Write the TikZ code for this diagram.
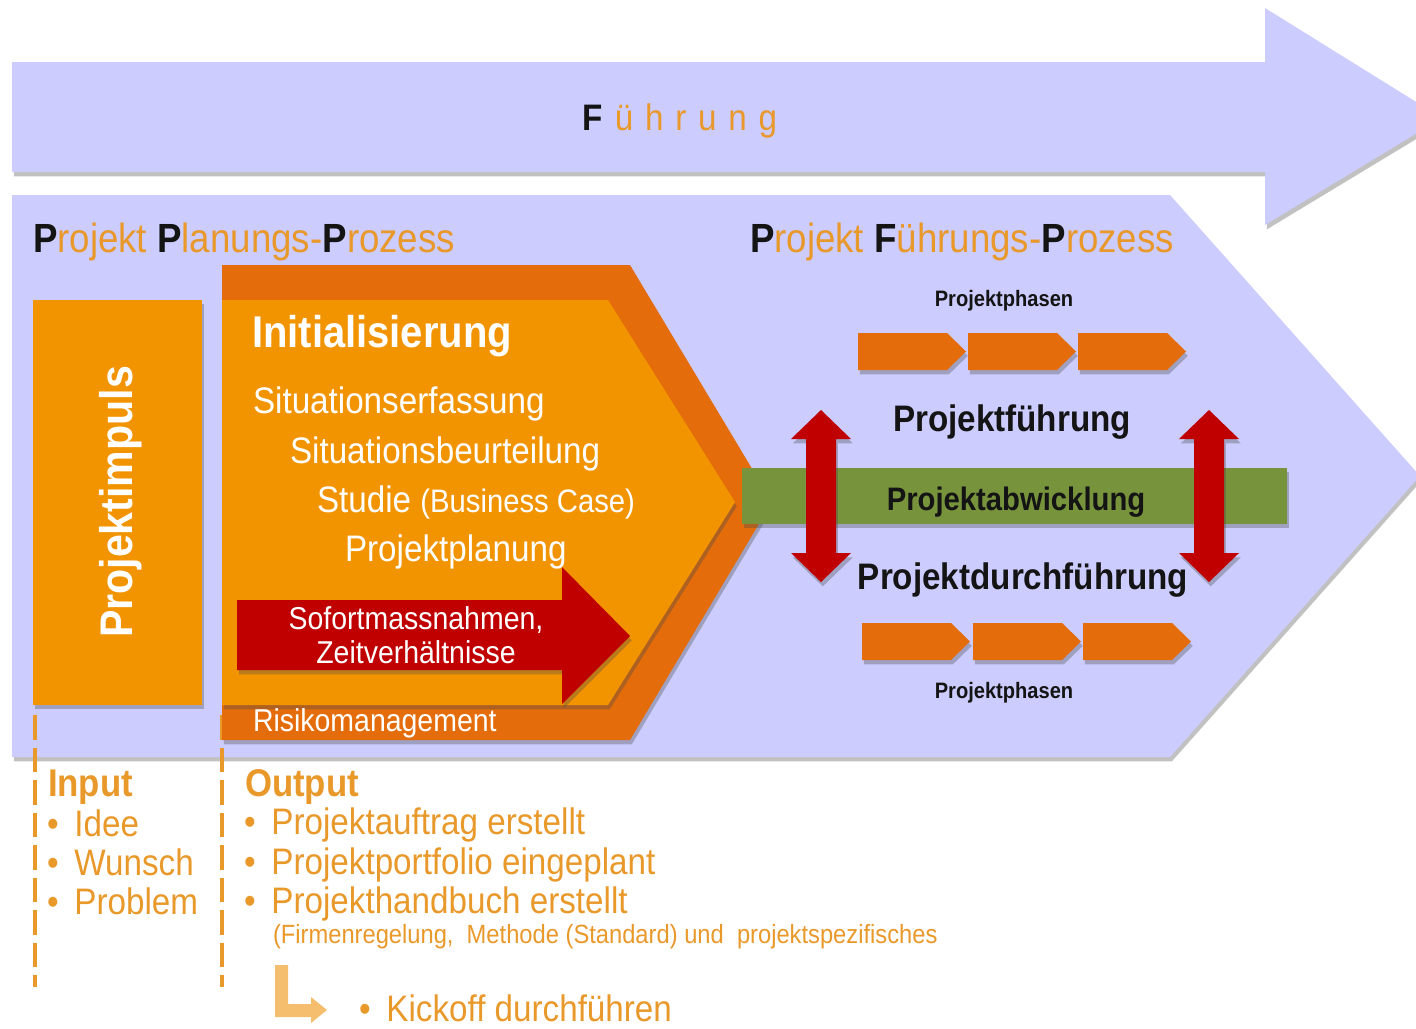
\documentclass[tikz,border=0pt]{standalone}
\usepackage{fontspec}
\setmainfont{Liberation Sans}[FakeStretch=0.9]
\usetikzlibrary{shadows}
\definecolor{lav}{RGB}{204,204,255}
\definecolor{orA}{RGB}{242,148,0}
\definecolor{orB}{RGB}{228,108,10}
\definecolor{orT}{RGB}{233,152,42}
\definecolor{redA}{RGB}{192,0,0}
\definecolor{grn}{RGB}{119,147,60}
\definecolor{lorange}{RGB}{245,190,110}
\definecolor{blk}{RGB}{20,20,20}
\newcommand\fsz[1]{\fontsize{#1}{#1}\selectfont}
\newcommand\ks{\kern6.7pt}
\begin{document}
\begin{tikzpicture}[x=0.02cm,y=-0.02cm,
  shd/.style={drop shadow={shadow xshift=1pt,shadow yshift=-2.5pt,opacity=0.35,fill=black!70}},
  txt/.style={inner sep=0pt,outer sep=0pt},
  wtxt/.style={txt,text=white},
  otxt/.style={txt,text=orT},
  btxt/.style={txt,text=blk,font=\bfseries},
  dashline/.style={draw=orT,line width=2pt,dash pattern=on 14pt off 4.5pt},
  phase/.pic={\fill[orB,shd] (0,0) -- (89,0) -- (108,18.5) -- (89,37) -- (0,37) -- cycle;},
  dblarrow/.pic={\fill[redA,shd] (0,0) -- (30,29) -- (15,29) -- (15,143) -- (30,143) -- (0,172) -- (-30,143) -- (-15,143) -- (-15,29) -- (-30,29) -- cycle;}
]
\useasboundingbox (0,0) rectangle (1416,1028);
\begin{scope}
\clip (0,0) rectangle (1416,1028);
% top arrow
\fill[lav,shd] (12,62) -- (1265,62) -- (1265,8) -- (1442,118) -- (1265,225) -- (1265,172) -- (12,172) -- cycle;
% big chevron
\fill[lav,shd] (12,195) -- (1170,195) -- (1420,476) -- (1170,757) -- (12,757) -- cycle;
\end{scope}
\node[txt,anchor=base] (fuehrung) at (680,130) {\fsz{21pt}\textbf{\color{blk}F}\ks\color{orT}ü\ks h\ks r\ks u\ks n\ks g};
\node[txt,anchor=base west] (ppp) at (33,252) {\fsz{23.2pt}\textbf{\color{blk}P}{\color{orT}rojekt} \textbf{\color{blk}P}{\color{orT}lanungs-}\textbf{\color{blk}P}{\color{orT}rozess}};
\node[txt,anchor=base west] (pfp) at (750,252) {\fsz{23.2pt}\textbf{\color{blk}P}{\color{orT}rojekt} \textbf{\color{blk}F}{\color{orT}ührungs-}\textbf{\color{blk}P}{\color{orT}rozess}};
% Projektimpuls
\fill[orA,shd] (33,300) rectangle (202,705);
\node[wtxt,anchor=base,rotate=90] (impuls) at (132,502) {\fsz{26pt}\bfseries Projektimpuls};
% dashed lines
\draw[dashline] (35,715) -- (35,987);
\draw[dashline] (222,715) -- (222,987);
% chevrons
\fill[orB,shd] (222,265) -- (630,265) -- (772,502) -- (630,740) -- (222,740) -- cycle;
\fill[orA,shd] (222,300) -- (608,300) -- (735,502) -- (608,705) -- (222,705) -- cycle;
\node[wtxt,anchor=base west] (init) at (252,347) {\fsz{25.3pt}\bfseries Initialisierung};
\node[wtxt,anchor=base west] (s1) at (253,413) {\fsz{21pt}Situationserfassung};
\node[wtxt,anchor=base west] (s2) at (290,463) {\fsz{21pt}Situationsbeurteilung};
\node[wtxt,anchor=base west] (s3) at (317,512) {\fsz{21pt}Studie {\fsz{18.5pt}(Business Case)}};
\node[wtxt,anchor=base west] (s4) at (345,561) {\fsz{21pt}Projektplanung};
% red arrow
\fill[redA,shd] (237,600) -- (562,600) -- (562,567) -- (630,636) -- (562,704) -- (562,670) -- (237,670) -- cycle;
\node[wtxt,anchor=base] (sof1) at (416,629) {\fsz{18pt}Sofortmassnahmen,};
\node[wtxt,anchor=base] (sof2) at (416,663) {\fsz{18pt}Zeitverhältnisse};
\node[wtxt,anchor=base west] (risk) at (253,731) {\fsz{18pt}Risikomanagement};
% right side
\fill[grn,shd] (742,468) rectangle (1287,524);
\node[btxt,anchor=base] (abw) at (1016,510) {\fsz{18.5pt}Projektabwicklung};
\pic at (858,333) {phase};
\pic at (968,333) {phase};
\pic at (1078,333) {phase};
\pic at (862,623) {phase};
\pic at (973,623) {phase};
\pic at (1083,623) {phase};
\node[btxt,anchor=base] (ph1) at (1004,306) {\fsz{12.7pt}Projektphasen};
\node[btxt,anchor=base] (ph2) at (1004,698) {\fsz{12.7pt}Projektphasen};
\pic at (821,410) {dblarrow};
\pic at (1209,410) {dblarrow};
\node[btxt,anchor=base] (pf) at (1012,431) {\fsz{21pt}Projektführung};
\node[btxt,anchor=base] (pd) at (1023,589) {\fsz{21pt}Projektdurchführung};
% bottom
\node[otxt,anchor=base west] (inp) at (48,796) {\fsz{22pt}\bfseries Input};
\node[otxt,anchor=base west] (i1) at (47,836) {\fsz{21pt}•\kern9pt Idee};
\node[otxt,anchor=base west] (i2) at (47,875) {\fsz{21pt}•\kern9pt Wunsch};
\node[otxt,anchor=base west] (i3) at (47,914) {\fsz{21pt}•\kern9pt Problem};
\node[otxt,anchor=base west] (outp) at (245,796) {\fsz{22pt}\bfseries Output};
\node[otxt,anchor=base west] (o1) at (244,834) {\fsz{21pt}•\kern9pt Projektauftrag erstellt};
\node[otxt,anchor=base west] (o2) at (244,874) {\fsz{21pt}•\kern9pt Projektportfolio eingeplant};
\node[otxt,anchor=base west] (o3) at (244,913) {\fsz{21pt}•\kern9pt Projekthandbuch erstellt};
\node[otxt,anchor=base west] (o4) at (273,943) {\fsz{15pt}(Firmenregelung,\ \ Methode (Standard) und\ \ projektspezifisches};
\fill[lorange] (275,965) -- (288,965) -- (288,1004) -- (311,1004) -- (311,997) -- (327,1010) -- (311,1023) -- (311,1017) -- (275,1017) -- cycle;
\node[otxt,anchor=base west] (kick) at (359,1021) {\fsz{21pt}•\kern9pt Kickoff durchführen};
\end{tikzpicture}
\end{document}
